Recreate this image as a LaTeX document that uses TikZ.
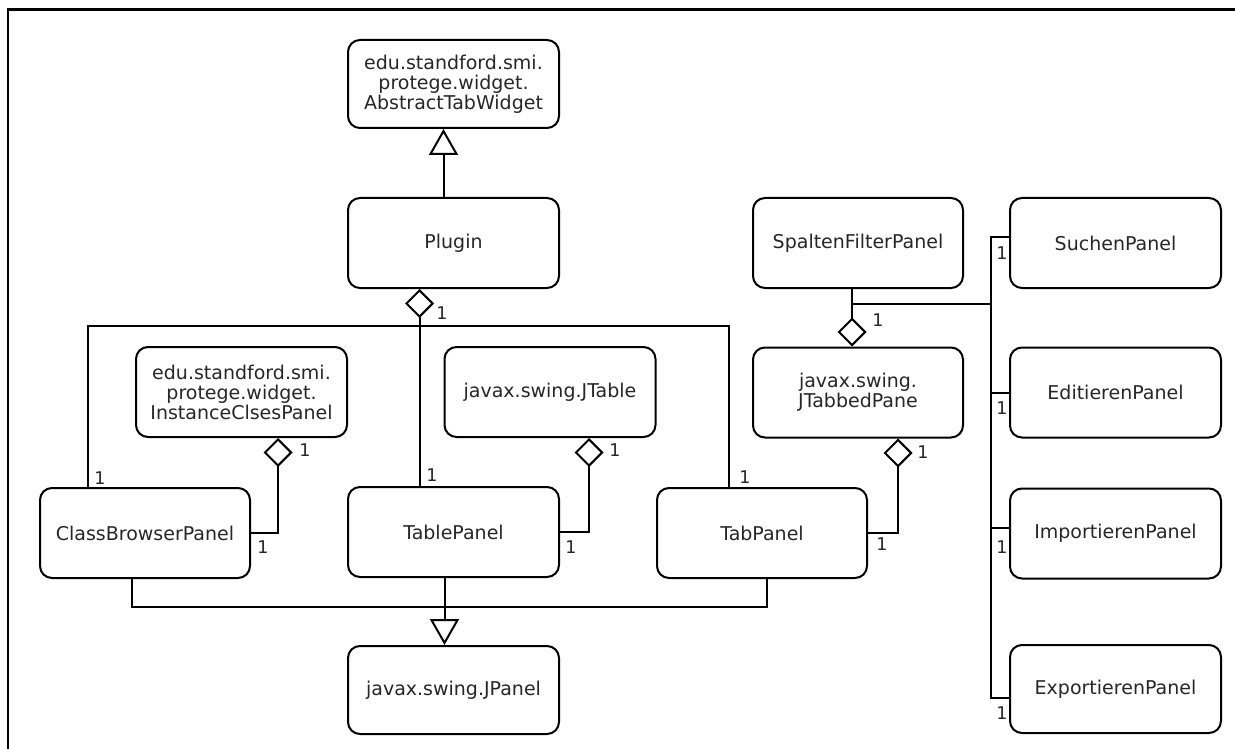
\documentclass[tikz,border=0pt]{standalone}
\usepackage{fontspec}
\setmainfont{DejaVu Sans}
\usetikzlibrary{arrows.meta}
\begin{document}
\begin{tikzpicture}[x=1pt,y=-1pt,
  line width=2pt,
  cls/.style={draw, rounded corners=12pt, minimum width=211pt, minimum height=90pt,
    align=center, inner sep=0pt, font=\fontsize{19}{20}\selectfont, text=black!85},
  mult/.style={font=\fontsize{17.5}{17.5}\selectfont, inner sep=0pt, text=black!85},
  gen/.style={-{Triangle[open,length=26pt,width=29pt]}},
  aggr/.style={{Diamond[open,length=29pt,width=29pt]}-},
  aggrend/.style={-{Diamond[open,length=29pt,width=29pt]}},
]
\useasboundingbox (0,0) rectangle (1235,749);
% outer frame
\draw[line width=2.5pt] (8,749) -- (8,9.5) -- (1235,9.5);

% classes
\node[cls, minimum height=88pt] (abs) at (453.5,84) {edu.standford.smi.\\protege.widget.\\AbstractTabWidget};
\node[cls] (plugin) at (453.5,243) {Plugin};
\node[cls] (icp) at (241.5,392) {edu.standford.smi.\\protege.widget.\\InstanceClsesPanel};
\node[cls] (jtable) at (550,392) {javax.swing.JTable};
\node[cls, minimum width=210pt] (jtabbed) at (858,392.5) {javax.swing.\\JTabbedPane};
\node[cls, minimum width=210pt] (spalten) at (858,243) {SpaltenFilterPanel};
\node[cls] (suchen) at (1115.5,243) {SuchenPanel};
\node[cls] (editieren) at (1115.5,392.5) {EditierenPanel};
\node[cls] (importieren) at (1115.5,533.5) {ImportierenPanel};
\node[cls, minimum height=88pt] (exportieren) at (1115.5,689) {ExportierenPanel};
\node[cls, minimum width=210pt] (cbp) at (145,533) {ClassBrowserPanel};
\node[cls] (tablepanel) at (453.5,532) {TablePanel};
\node[cls, minimum width=210pt] (tabpanel) at (762,533) {TabPanel};
\node[cls, minimum height=88pt] (jpanel) at (453.5,690) {javax.swing.JPanel};

% generalisation Plugin -> AbstractTabWidget
\draw[gen] ([xshift=-10pt]plugin.north) -- ([xshift=-10pt]abs.south);

% Plugin aggregates the three panels
\draw[aggr] ([xshift=-34pt]plugin.south) -- ([xshift=-34pt]tablepanel.north);
\draw ([xshift=-57pt]cbp.north) -- ++(0,-161) -| ([xshift=-33pt]tabpanel.north);

% panel aggregations
\draw[aggr] ([xshift=36.5pt]icp.south) |- (cbp.east);
\draw[aggr] ([xshift=39pt]jtable.south) |- (tablepanel.east);
\draw[aggr] ([xshift=40pt]jtabbed.south) |- (tabpanel.east);

% JTabbedPane aggregates the filter and the action panels
\draw[aggrend] ([xshift=-6pt]spalten.south) -- ([xshift=-6pt]jtabbed.north);
\coordinate (sfp) at ([xshift=-6pt]spalten.south);
\coordinate (bus) at (991,304);
\draw (sfp |- bus) -- (bus);
\draw ([yshift=6pt]suchen.west) -| (bus);
\draw (bus) |- ([yshift=-9pt]exportieren.west);
\draw (editieren.west) -- (editieren.west -| bus);
\draw ([yshift=5.5pt]importieren.west) -- ++(-19,0);

% generalisation of the panels -> JPanel
\draw[gen] ([xshift=-9pt]tablepanel.south) -- ([xshift=-9pt]jpanel.north);
\draw ([xshift=-13pt]cbp.south) -- ++(0,28) -| ([xshift=5pt]tabpanel.south);

% multiplicities
\node[mult] (m1) at (442,313) {1};
\node[mult] (m2) at (100,478) {1};
\node[mult] (m3) at (432,475) {1};
\node[mult] (m4) at (745,477) {1};
\node[mult] (m5) at (305,450) {1};
\node[mult] (m6) at (263,547) {1};
\node[mult] (m7) at (615,450) {1};
\node[mult] (m8) at (571,547) {1};
\node[mult] (m9) at (923,452) {1};
\node[mult] (m10) at (882,544) {1};
\node[mult] (m11) at (878,320) {1};
\node[mult] (m12) at (1002,253) {1};
\node[mult] (m13) at (1002,408) {1};
\node[mult] (m14) at (1002,547) {1};
\node[mult] (m15) at (1002,713) {1};
\end{tikzpicture}
\end{document}
